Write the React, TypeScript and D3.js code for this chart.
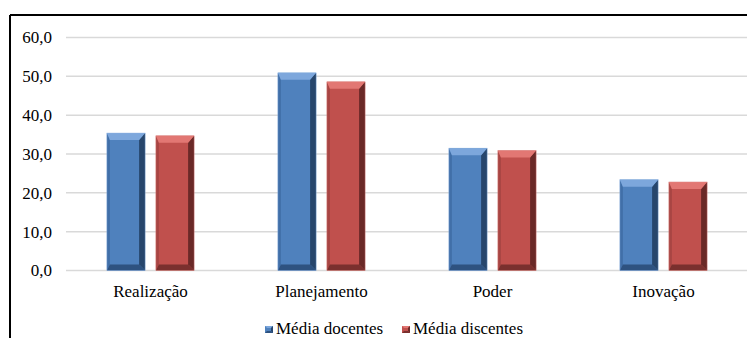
import React from "react";
import * as d3 from "d3";

const categories = ["Realização", "Planejamento", "Poder", "Inovação"];
const seriesNames = ["Média docentes", "Média discentes"];
const docentes = [35.4, 50.9, 31.5, 23.4];
const discentes = [34.7, 48.6, 30.9, 22.8];
const yTicks = [0, 10, 20, 30, 40, 50, 60];

const W = 747;
const H = 338;

type Palette = { face: string; top: string; left: string; right: string; bottom: string; edge: string };
const palettes: Palette[] = [
  { face: "#4F81BD", top: "#7DA7DC", left: "#416FA8", right: "#27466C", bottom: "#2E5280", edge: "#8FB3E3" },
  { face: "#C0504D", top: "#E27773", left: "#A84543", right: "#6A2927", bottom: "#7A302E", edge: "#E08E8B" },
];

function bevelPaths(x: number, y: number, w: number, h: number) {
  const bl = 3, br = 6, bt = 7, bb = 6;
  const pts = (a: number[][]) => "M" + a.map((p) => p.join(",")).join("L") + "Z";
  return {
    top: pts([[x, y], [x + w, y], [x + w - br, y + bt], [x + bl, y + bt]]),
    right: pts([[x + w, y], [x + w, y + h], [x + w - br, y + h - bb], [x + w - br, y + bt]]),
    bottom: pts([[x, y + h], [x + w, y + h], [x + w - br, y + h - bb], [x + bl, y + h - bb]]),
    left: pts([[x, y], [x, y + h], [x + bl, y + h - bb], [x + bl, y + bt]]),
  };
}

const textStyle: React.CSSProperties = {
  fontFamily: "Liberation Serif, Tinos, Times New Roman, Times, DejaVu Serif, serif",
  fontSize: 17,
};

export default function App() {
  const x0 = d3.scaleBand<string>().domain(categories).range([65, 749]).paddingInner(0.49).paddingOuter(0.245);
  const x1 = d3.scaleBand<string>().domain(seriesNames).range([0, x0.bandwidth()]).paddingInner(0.22);
  const y = d3.scaleLinear().domain([0, 60]).range([270.5, 37.5]);
  const values = [docentes, discentes];

  return (
    <svg width={W} height={H} style={{ position: "absolute", left: 0, top: 0, background: "#fff" }}>
      <rect x={0} y={0} width={W} height={H} fill="#fff" />
      {/* chart frame, open to the right and bottom */}
      <line x1={10} y1={15} x2={W} y2={15} stroke="#000" strokeWidth={2} />
      <line x1={10} y1={15} x2={10} y2={H} stroke="#000" strokeWidth={2} />

      {yTicks.map((t) => (
        <g key={t}>
          <line x1={66} x2={W} y1={y(t)} y2={y(t)} stroke="#D9D9D9" strokeWidth={1.5} />
          <text x={52} y={y(t)} dy="0.35em" textAnchor="end" style={textStyle} fill="#000">
            {t.toFixed(1).replace(".", ",")}
          </text>
        </g>
      ))}

      {categories.map((c, ci) => (
        <g key={c}>
          {seriesNames.map((s, si) => {
            const bx = (x0(c) as number) + (x1(s) as number);
            const bw = x1.bandwidth();
            const by = y(values[si][ci]);
            const bh = y(0) - by;
            const p = palettes[si];
            const b = bevelPaths(bx, by, bw, bh);
            return (
              <g key={s}>
                <rect x={bx} y={by} width={bw} height={bh} fill={p.face} />
                <path d={b.left} fill={p.left} />
                <path d={b.right} fill={p.right} />
                <path d={b.bottom} fill={p.bottom} />
                <path d={b.top} fill={p.top} />
                <rect x={bx} y={by} width={bw} height={bh} fill="none" stroke={p.edge} strokeWidth={0.6} strokeOpacity={0.7} />
              </g>
            );
          })}
          <text
            x={(x0(c) as number) + x0.bandwidth() / 2}
            y={297}
            textAnchor="middle"
            style={textStyle}
            fill="#000"
          >
            {c}
          </text>
        </g>
      ))}

      {seriesNames.map((s, si) => {
        const lx = si === 0 ? 265 : 402;
        const p = palettes[si];
        return (
          <g key={s}>
            <rect x={lx} y={326} width={8} height={7} fill={p.face} />
            <path d={`M${lx},326L${lx + 8},326L${lx + 6},328L${lx + 2},328Z`} fill={p.top} />
            <path d={`M${lx + 8},326L${lx + 8},333L${lx + 6},331L${lx + 6},328Z`} fill={p.right} />
            <path d={`M${lx},333L${lx + 8},333L${lx + 6},331L${lx + 2},331Z`} fill={p.bottom} />
            <text x={lx + 11} y={334} style={textStyle} fill="#000">
              {s}
            </text>
          </g>
        );
      })}
    </svg>
  );
}
